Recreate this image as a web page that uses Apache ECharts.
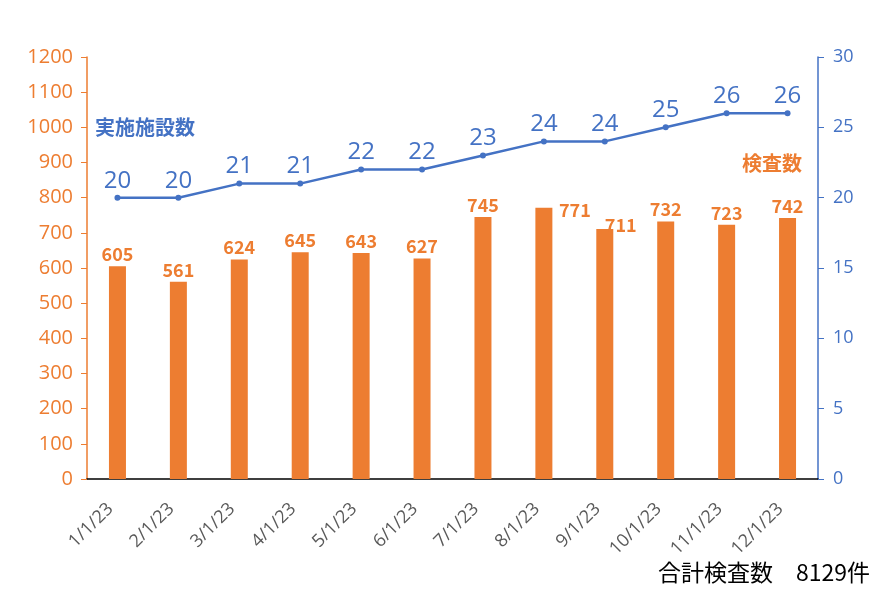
<!DOCTYPE html>
<html><head><meta charset="utf-8">
<script src="https://cdn.jsdelivr.net/npm/echarts@6/dist/echarts.min.js"></script>
<style>html,body{margin:0;padding:0;background:#fff}#c{width:886px;height:590px}</style>
</head><body><div id="c"></div>
<script>
const categories = ['1/1/23','2/1/23','3/1/23','4/1/23','5/1/23','6/1/23','7/1/23','8/1/23','9/1/23','10/1/23','11/1/23','12/1/23'];
const testCounts = [605,561,624,645,643,627,745,771,711,732,723,742];
const facilityCounts = [20,20,21,21,22,22,23,24,24,25,26,26];
const leftTicks = {min:0, max:1200, interval:100};
const rightTicks = {min:0, max:30, interval:5};
const totalLabel = '合計検査数　8129件';

const ORANGE = '#ED7D31', BLUE = '#4472C4';
const numFont = "'Open Sans', 'Noto Sans', sans-serif";
const jpFont = "'Noto Sans CJK JP', sans-serif";

const chart = echarts.init(document.getElementById('c'), null, {renderer:'canvas'});
const barData = testCounts.map((v, i) => {
  const item = {value: v};
  if (i === 7) item.label = {offset: [31, 14]};
  if (i === 8) item.label = {offset: [16, 8]};
  return item;
});
chart.setOption({
  animation: false,
  grid: {left: 87, right: 68, top: 57, bottom: 111},
  xAxis: {
    type: 'category', data: categories,
    axisLine: {lineStyle: {color: '#000', width: 1.5}},
    axisTick: {show: false},
    axisLabel: {rotate: 45, color: '#595959', fontSize: 18, fontFamily: numFont, margin: 20, padding: [0, 10, 0, 0]}
  },
  yAxis: [
    {type: 'value', min: leftTicks.min, max: leftTicks.max, interval: leftTicks.interval,
     axisLine: {show: true, lineStyle: {color: ORANGE, width: 1.5}},
     axisTick: {show: true, length: 6, lineStyle: {color: ORANGE}},
     splitLine: {show: false},
     axisLabel: {color: ORANGE, fontSize: 20, fontFamily: numFont, margin: 14, formatter: v => String(v)}},
    {type: 'value', min: rightTicks.min, max: rightTicks.max, interval: rightTicks.interval, position: 'right',
     axisLine: {show: true, lineStyle: {color: BLUE, width: 1.5}},
     axisTick: {show: true, length: 6, lineStyle: {color: BLUE}},
     splitLine: {show: false},
     axisLabel: {color: BLUE, fontSize: 18, fontFamily: numFont, margin: 15}}
  ],
  graphic: [
    {type: 'text', left: 95, top: 117, style: {text: '実施施設数', fill: BLUE, font: "bold 20px 'Noto Sans CJK JP'"}},
    {type: 'text', left: 742, top: 153, style: {text: '検査数', fill: ORANGE, font: "bold 20px 'Noto Sans CJK JP'"}},
    {type: 'text', right: 16, top: 561, style: {text: totalLabel, fill: '#000', font: "23px 'Noto Sans CJK JP'"}}
  ],
  series: [
    {type: 'bar', yAxisIndex: 0, data: barData, barWidth: 17,
     itemStyle: {color: ORANGE},
     label: {show: true, position: 'top', color: ORANGE, fontSize: 18, fontWeight: 'bold', fontFamily: jpFont, distance: 3}},
    {type: 'line', yAxisIndex: 1, data: facilityCounts,
     lineStyle: {color: BLUE, width: 2.5}, itemStyle: {color: BLUE},
     symbol: 'circle', symbolSize: 6,
     label: {show: true, position: 'top', color: BLUE, fontSize: 24, fontFamily: numFont, distance: 2}}
  ]
});
</script></body></html>
